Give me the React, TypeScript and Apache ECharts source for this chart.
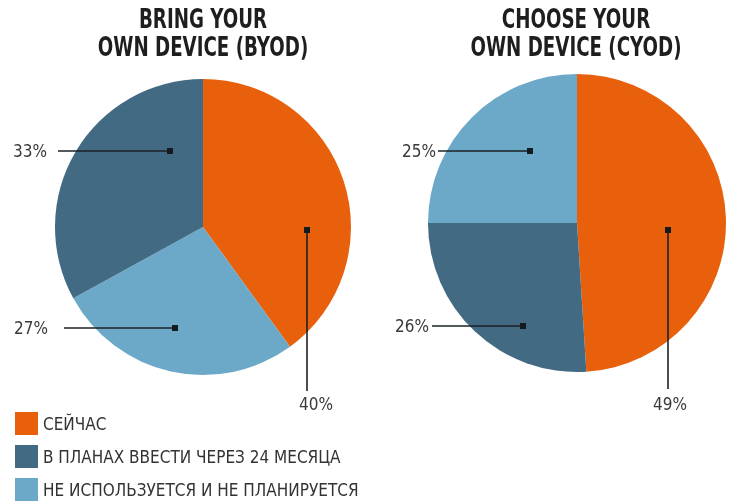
import React, { useEffect, useRef } from "react";
import * as echarts from "echarts";

const categories = ["СЕЙЧАС", "В ПЛАНАХ ВВЕСТИ ЧЕРЕЗ 24 МЕСЯЦА", "НЕ ИСПОЛЬЗУЕТСЯ И НЕ ПЛАНИРУЕТСЯ"];
const colors = ["#e8600c", "#426a83", "#6ca8c8"];
const titles = ["BRING YOUR\nOWN DEVICE (BYOD)", "CHOOSE YOUR\nOWN DEVICE (CYOD)"];
// slice order clockwise from 12 o'clock
const byodOrder = [0, 2, 1];
const byodValues = [40, 27, 33];
const cyodOrder = [0, 1, 2];
const cyodValues = [49, 26, 25];

// label layout (positions only): [dotX, dotY, endX, endY, labelX, labelY, align]
const byodLabels: [number, number, number, number, number, number, string][] = [
  [307, 230, 307, 391, 316, 404, "center"],
  [175, 328, 64, 328, 48, 328, "right"],
  [170, 151, 58, 151, 47, 151, "right"],
];
const cyodLabels: [number, number, number, number, number, number, string][] = [
  [668, 230, 668, 389, 670, 404, "center"],
  [523, 326, 432, 326, 429, 326, "right"],
  [530, 151, 438, 151, 436, 151, "right"],
];

const FONT = '"DejaVu Sans Condensed", "Liberation Sans Narrow", sans-serif';

export default function App() {
  const ref = useRef<HTMLDivElement>(null);
  useEffect(() => {
    if (!ref.current) return;
    const chart = echarts.init(ref.current, undefined, { renderer: "svg" });
    const layouts = [byodLabels, cyodLabels];
    const mkSeries = (idx: number, order: number[], values: number[], center: number[], r: number) => ({
      type: "pie",
      name: idx === 0 ? "BYOD" : "CYOD",
      center,
      radius: r,
      startAngle: 90,
      clockwise: true,
      silent: true,
      avoidLabelOverlap: false,
      itemStyle: { borderWidth: 0 },
      label: {
        show: true,
        position: "outside",
        formatter: "{c}%",
        fontFamily: FONT,
        fontSize: 17,
        color: "#3a3a3a",
        overflow: "none",
        width: 80,
      },
      labelLine: { show: false },
      labelLayout: (p: any) => {
        const L = layouts[idx][p.dataIndex];
        return {
          x: L[4],
          y: L[5],
          align: L[6],
          verticalAlign: "middle",
          hideOverlap: false,
        };
      },
      data: order.map((c, i) => ({
        name: categories[c],
        value: values[i],
        itemStyle: { color: colors[c] },
      })),
    });
    const guides: any[] = [];
    layouts.forEach((ls) =>
      ls.forEach((L) => {
        guides.push({
          type: "line",
          shape: { x1: L[0], y1: L[1], x2: L[2], y2: L[3] },
          style: { stroke: "#1b2226", lineWidth: 1.6 },
          z: 100,
        });
        guides.push({
          type: "rect",
          shape: { x: L[0] - 3, y: L[1] - 3, width: 6, height: 6 },
          style: { fill: "#151a1f" },
          z: 101,
        });
      })
    );
    const titleEl = (x: number, t: string) => ({
      type: "text",
      x,
      y: 5,
      scaleX: 0.78,
      style: {
        text: t,
        font: `bold 26px ${FONT}`,
        textAlign: "center",
        lineHeight: 28,
        fill: "#1e1e1e",
      },
    });
    chart.setOption({
      animation: false,
      legend: {
        orient: "vertical",
        left: 15,
        top: 412,
        height: 120,
        padding: 0,
        icon: "rect",
        itemWidth: 23,
        itemHeight: 23,
        itemGap: 10,
        selectedMode: false,
        data: categories,
        textStyle: { fontFamily: FONT, fontSize: 17, color: "#333" },
      },
      graphic: [titleEl(203, titles[0]), titleEl(576, titles[1]), ...guides],
      series: [
        mkSeries(0, byodOrder, byodValues, [203, 227], 148),
        mkSeries(1, cyodOrder, cyodValues, [577, 223], 149),
      ],
    });
    return () => chart.dispose();
  }, []);
  return <div ref={ref} style={{ position: "fixed", left: 0, top: 0, width: 733, height: 504 }} />;
}
